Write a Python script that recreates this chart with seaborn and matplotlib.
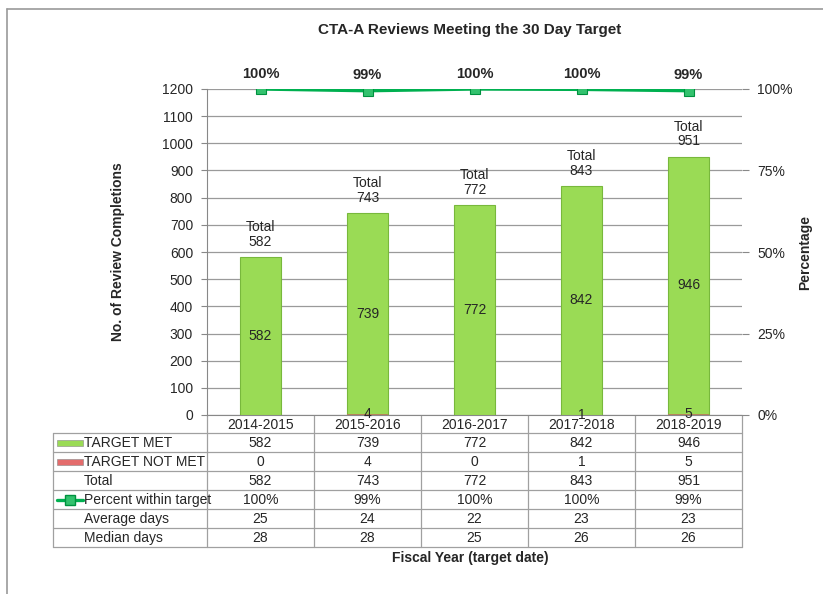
import numpy as np
import pandas as pd
import seaborn as sns
import matplotlib.pyplot as plt
from matplotlib.patches import Rectangle

# data
years = ["2014-2015", "2015-2016", "2016-2017", "2017-2018", "2018-2019"]
target_met = [582, 739, 772, 842, 946]
target_not_met = [0, 4, 0, 1, 5]
totals = [582, 743, 772, 843, 951]
pct_within = [100.0, 99.46, 100.0, 99.88, 99.47]
pct_labels = ["100%", "99%", "100%", "100%", "99%"]
avg_days = [25, 24, 22, 23, 23]
median_days = [28, 28, 25, 26, 26]

sns.set_style("white")
plt.rcParams["font.family"] = ["Liberation Sans", "DejaVu Sans"]

W, H = 823, 594
fig = plt.figure(figsize=(W / 100, H / 100), dpi=100)

# overlay in pixel coords for frame, table and titles
lay = fig.add_axes([0, 0, 1, 1])
lay.set_xlim(0, W)
lay.set_ylim(H, 0)
lay.axis("off")

# plot area in pixels: x 207..742, y 89..415
ax = fig.add_axes([207 / W, 1 - 415 / H, 535 / W, 326 / H])

df = pd.DataFrame({"year": years, "met": target_met, "not_met": target_not_met, "total": totals})

green = "#9ADB55"
red = "#E46C6C"
line_green = "#00B050"
# total bar (green) with the not-met portion drawn at its base
sns.barplot(data=df, x="year", y="total", color=green, width=0.39, saturation=1,
            edgecolor="#78B83C", linewidth=0.8, ax=ax, zorder=3)
sns.barplot(data=df, x="year", y="not_met", color="#B5835A", width=0.39, saturation=1,
            linewidth=0, ax=ax, zorder=4)

ax.set_ylim(0, 1200)
ax.set_xlim(-0.5, 4.5)
ax.set_yticks(range(0, 1201, 100))
ax.yaxis.grid(True, color="#9A9A9A", linewidth=0.9, zorder=0)
ax.set_axisbelow(True)
ax.tick_params(axis="y", labelsize=10, length=4, color="#888888", direction="out", left=True, pad=6)
ax.tick_params(axis="x", bottom=False, labelbottom=False)
ax.set_xlabel("")
ax.set_ylabel("No. of Review Completions", fontsize=10, fontweight="bold", labelpad=27)
for s in ["top", "right"]:
    ax.spines[s].set_visible(False)
ax.spines["left"].set_color("#888888")
ax.spines["bottom"].set_color("#888888")

# value labels inside bars
for i, (m, n, t) in enumerate(zip(target_met, target_not_met, totals)):
    ax.text(i, n + m / 2, str(m), ha="center", va="center", fontsize=10, zorder=6)
    if n > 0:
        ax.text(i, n / 2, str(n), ha="center", va="center", fontsize=10, zorder=6)
    ax.annotate(f"Total\n{t}", (i, t), xytext=(0, 6), textcoords="offset points",
                ha="center", va="bottom", fontsize=10, linespacing=1.05, zorder=6)

# percentage line on secondary axis
ax2 = ax.twinx()
ax2.set_ylim(0, 100)
sns.lineplot(x=np.arange(len(years)), y=pct_within, ax=ax2, color=line_green, linewidth=2.4,
             marker="s", markersize=7, markerfacecolor="#33C26E", markeredgecolor="#00913F",
             markeredgewidth=0.8, zorder=5)
for i, (p, lab) in enumerate(zip(pct_within, pct_labels)):
    ax2.annotate(lab, (i, p), xytext=(0, 6), textcoords="offset points",
                 ha="center", va="bottom", fontsize=10.5, fontweight="bold")
ax2.set_yticks([0, 25, 50, 75, 100])
ax2.set_yticklabels(["0%", "25%", "50%", "75%", "100%"])
ax2.tick_params(axis="y", labelsize=10, length=5, color="#888888", right=True, pad=6)
ax2.set_ylabel("Percentage", fontsize=10, fontweight="bold", labelpad=4)
for s in ["top", "left", "bottom", "right"]:
    ax2.spines[s].set_visible(False)
ax2.set_xlim(-0.5, 4.5)

# data table under the plot (pixel layout)
row_labels = ["TARGET MET", "TARGET NOT MET", "Total", "Percent within target",
              "Average days", "Median days"]
cell_text = [
    [str(v) for v in target_met],
    [str(v) for v in target_not_met],
    [str(v) for v in totals],
    pct_labels,
    [str(v) for v in avg_days],
    [str(v) for v in median_days],
]
grid_c = "#A0A0A0"
col_x = [207 + 107 * k for k in range(6)]
row_y = [415, 433, 452, 471, 490, 509, 528, 547]
for x in col_x:
    lay.plot([x, x], [415, 547], color=grid_c, lw=0.9)
lay.plot([53, 53], [433, 547], color=grid_c, lw=0.9)
for y in row_y[1:]:
    lay.plot([53, 742], [y, y], color=grid_c, lw=0.9)
for k, yr in enumerate(years):
    lay.text((col_x[k] + col_x[k + 1]) / 2, (row_y[0] + row_y[1]) / 2 + 5, yr,
             ha="center", va="baseline", fontsize=10)
for r, (lab, vals) in enumerate(zip(row_labels, cell_text)):
    yb = (row_y[r + 1] + row_y[r + 2]) / 2 + 4.5
    lay.text(84, yb, lab, ha="left", va="baseline", fontsize=10)
    for k, v in enumerate(vals):
        lay.text((col_x[k] + col_x[k + 1]) / 2, yb, v, ha="center", va="baseline", fontsize=10)

# legend keys in the row labels
for r, col in [(0, green), (1, red)]:
    yc = (row_y[r + 1] + row_y[r + 2]) / 2
    lay.add_patch(Rectangle((57, yc - 3), 26, 6, facecolor=col, edgecolor="#888888", lw=0.4))
yc = (row_y[4] + row_y[5]) / 2
lay.plot([57, 83], [yc, yc], color=line_green, lw=2.4)
lay.plot([70], [yc], marker="s", markersize=7, markerfacecolor="#33C26E", markeredgecolor="#00913F")

lay.text(470, 558, "Fiscal Year (target date)", ha="center", va="center",
         fontsize=10, fontweight="bold")
lay.text(470, 30, "CTA-A Reviews Meeting the 30 Day Target", ha="center",
         va="center", fontsize=11, fontweight="bold")

# outer chart frame (top and left edges)
lay.plot([7, W], [9, 9], color="#9A9A9A", lw=1.2)
lay.plot([7, 7], [9, H], color="#9A9A9A", lw=1.2)

fig.savefig("out.png", dpi=100)
